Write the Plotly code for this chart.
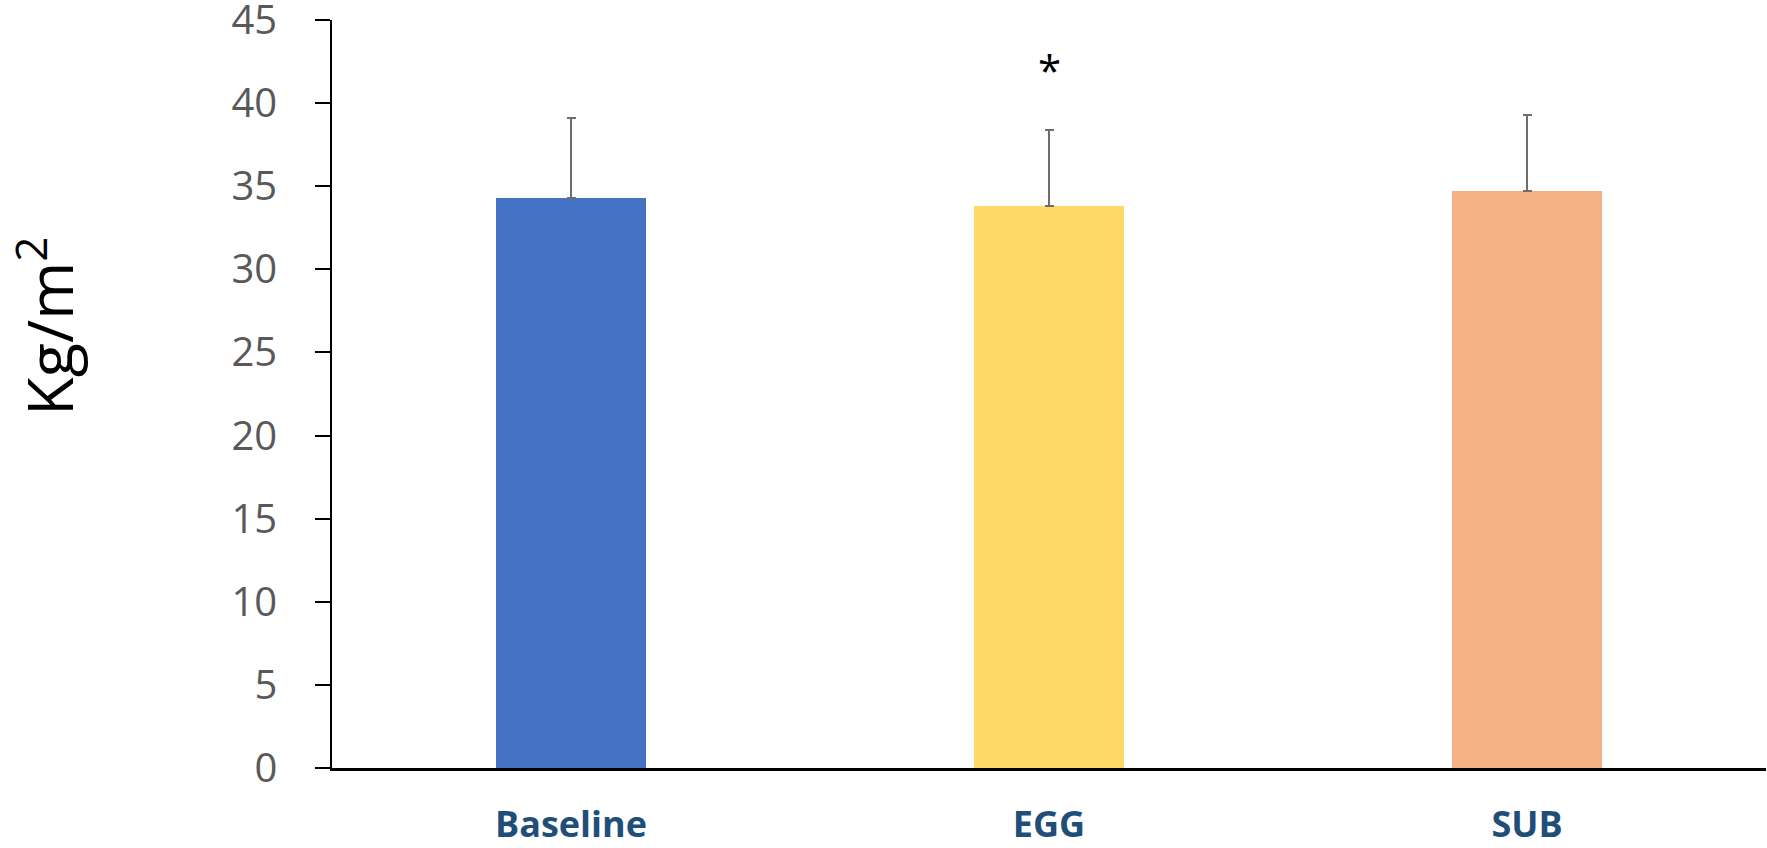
import plotly.graph_objects as go

# BMI by study phase (mean with upper SD)
groups = ["Baseline", "EGG", "SUB"]
bmi_mean = [34.3, 33.8, 34.7]
bmi_sd = [4.8, 4.6, 4.6]
bar_colors = ["#4472C4", "#FFD966", "#F4B183"]
y_ticks = [0, 5, 10, 15, 20, 25, 30, 35, 40, 45]

fig = go.Figure(
    go.Bar(
        x=groups,
        y=bmi_mean,
        width=0.314,
        marker=dict(color=bar_colors, line=dict(width=0)),
        error_y=dict(
            type="data",
            symmetric=False,
            array=bmi_sd,
            arrayminus=[0] * len(bmi_sd),
            color="#6E6E6E",
            thickness=2,
            width=4.5,
        ),
    )
)

# significance marker above the EGG bar
fig.add_annotation(
    x="EGG", y=42.0, text="*", showarrow=False,
    font=dict(family="Open Sans", size=42, color="black"),
    yanchor="middle",
)

# y-axis title
fig.add_annotation(
    xref="paper", yref="paper", x=-0.2, y=0.59,
    text="Kg/m<sup>2</sup>", textangle=-90, showarrow=False,
    font=dict(family="Open Sans", size=63, color="black"),
    xanchor="center", yanchor="middle",
)

fig.update_layout(
    width=1767, height=848,
    margin=dict(l=332, r=1, t=20, b=80),
    paper_bgcolor="white", plot_bgcolor="white",
    showlegend=False,
    bargap=0.0,
)
fig.update_xaxes(
    type="category", range=[-0.5, 2.5], automargin=False,
    showline=True, linecolor="black", linewidth=2.5,
    ticks="", showgrid=False,
    tickfont=dict(family="Open Sans", size=36, color="#1F4E79", weight="bold"),
    ticklabelstandoff=23, ticklabeloverflow="allow",
)
fig.update_yaxes(
    range=[0, 45], tickvals=y_ticks, automargin=False,
    showline=True, linecolor="black", linewidth=1.5,
    ticks="outside", ticklen=15, tickcolor="black", tickwidth=1.5,
    showgrid=False, zeroline=False,
    tickfont=dict(family="Open Sans", size=40, color="#595959"),
    ticklabelstandoff=30, ticklabeloverflow="allow",
)

fig.write_html("out.html")
